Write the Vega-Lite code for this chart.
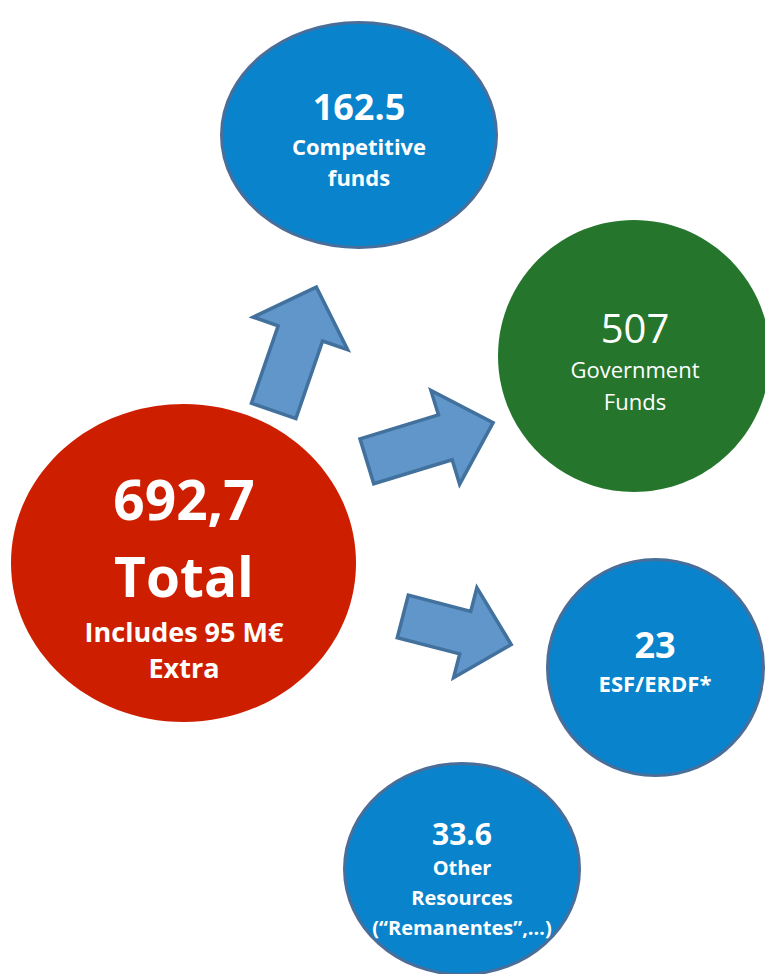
{
  "$schema": "https://vega.github.io/schema/vega-lite/v6.json",
  "width": 765,
  "height": 974,
  "padding": 0,
  "autosize": {"type": "none"},
  "background": "white",
  "config": {"view": {"stroke": null}, "font": "Open Sans"},
  "datasets": {
    "circles": [
      {"name": "Total", "x": 183.5, "y": 563},
      {"name": "Competitive funds", "x": 359, "y": 135},
      {"name": "Government Funds", "x": 634, "y": 356},
      {"name": "ESF/ERDF", "x": 655.5, "y": 667.5},
      {"name": "Other Resources", "x": 462, "y": 869}
    ],
    "arrows": [
      {"arrow": "to Competitive funds", "x": 295, "y": 349, "angle": 19},
      {"arrow": "to Government Funds", "x": 430, "y": 442, "angle": 73},
      {"arrow": "to ESF/ERDF", "x": 457, "y": 630.5, "angle": 104.5}
    ],
    "labels": [
      {"circle": "Total", "role": "headline", "text": "692,7", "x": 184, "y": 520},
      {"circle": "Total", "role": "headline", "text": "Total", "x": 184, "y": 597},
      {"circle": "Total", "role": "note", "text": "Includes 95 M€", "x": 184, "y": 642},
      {"circle": "Total", "role": "note", "text": "Extra", "x": 184, "y": 678},
      {"circle": "Competitive funds", "role": "figure", "text": "162.5", "x": 359, "y": 120},
      {"circle": "Competitive funds", "role": "caption", "text": "Competitive", "x": 359, "y": 155},
      {"circle": "Competitive funds", "role": "caption", "text": "funds", "x": 359, "y": 186},
      {"circle": "Government Funds", "role": "gov_figure", "text": "507", "x": 635, "y": 343},
      {"circle": "Government Funds", "role": "gov_caption", "text": "Government", "x": 635, "y": 378},
      {"circle": "Government Funds", "role": "gov_caption", "text": "Funds", "x": 635, "y": 410},
      {"circle": "ESF/ERDF", "role": "figure", "text": "23", "x": 655, "y": 658},
      {"circle": "ESF/ERDF", "role": "caption", "text": "ESF/ERDF*", "x": 655, "y": 692},
      {"circle": "Other Resources", "role": "figure_small", "text": "33.6", "x": 462, "y": 845},
      {"circle": "Other Resources", "role": "caption_small", "text": "Other", "x": 462, "y": 875},
      {"circle": "Other Resources", "role": "caption_small", "text": "Resources", "x": 462, "y": 905},
      {"circle": "Other Resources", "role": "caption_small", "text": "(“Remanentes”,…)", "x": 462, "y": 935}
    ]
  },
  "encoding": {
    "x": {"field": "x", "type": "quantitative", "scale": {"domain": [0, 765], "nice": false, "zero": false}, "axis": null},
    "y": {"field": "y", "type": "quantitative", "scale": {"domain": [0, 974], "nice": false, "zero": false, "reverse": true}, "axis": null}
  },
  "layer": [
    {
      "data": {"name": "circles"},
      "mark": {"type": "point", "filled": true, "opacity": 1, "strokeWidth": 3, "size": 40000},
      "encoding": {
        "shape": {"field": "name", "type": "nominal", "legend": null, "scale": {
          "domain": ["Total", "Competitive funds", "Government Funds", "ESF/ERDF", "Other Resources"],
          "range": [
            "M1.725,0C1.725,0.878 0.953,1.59 0,1.59C-0.953,1.59 -1.725,0.878 -1.725,0C-1.725,-0.878 -0.953,-1.59 0,-1.59C0.953,-1.59 1.725,-0.878 1.725,0Z",
            "M1.375,0C1.375,0.621 0.759,1.125 0,1.125C-0.759,1.125 -1.375,0.621 -1.375,0C-1.375,-0.621 -0.759,-1.125 0,-1.125C0.759,-1.125 1.375,-0.621 1.375,0Z",
            "M1.36,0C1.36,0.751 0.751,1.36 0,1.36C-0.751,1.36 -1.36,0.751 -1.36,0C-1.36,-0.751 -0.751,-1.36 0,-1.36C0.751,-1.36 1.36,-0.751 1.36,0Z",
            "M1.08,0C1.08,0.597 0.597,1.08 0,1.08C-0.597,1.08 -1.08,0.597 -1.08,0C-1.08,-0.597 -0.597,-1.08 0,-1.08C0.597,-1.08 1.08,-0.597 1.08,0Z",
            "M1.175,0C1.175,0.583 0.649,1.055 0,1.055C-0.649,1.055 -1.175,0.583 -1.175,0C-1.175,-0.583 -0.649,-1.055 0,-1.055C0.649,-1.055 1.175,-0.583 1.175,0Z"
          ]}},
        "fill": {"field": "name", "type": "nominal", "legend": null, "scale": {
          "domain": ["Total", "Competitive funds", "Government Funds", "ESF/ERDF", "Other Resources"],
          "range": ["#CD1F00", "#0983CB", "#25762C", "#0983CB", "#0983CB"]}},
        "stroke": {"field": "name", "type": "nominal", "legend": null, "scale": {
          "domain": ["Total", "Competitive funds", "Government Funds", "ESF/ERDF", "Other Resources"],
          "range": ["transparent", "#4A6E9A", "transparent", "#4A6E9A", "#4A6E9A"]}}
      }
    },
    {
      "data": {"name": "arrows"},
      "mark": {"type": "point", "filled": true, "opacity": 1, "size": 10000, "fill": "#6096CA", "stroke": "#41719C", "strokeWidth": 3.5, "strokeJoin": "miter"},
      "encoding": {
        "angle": {"field": "angle", "type": "quantitative", "scale": null},
        "shape": {"field": "arrow", "type": "nominal", "legend": null, "scale": {
          "domain": ["to Competitive funds", "to Government Funds", "to ESF/ERDF"],
          "range": [
            "M0,-1.31L1.0,-0.33L0.47,-0.33L0.47,1.31L-0.47,1.31L-0.47,-0.33L-1.0,-0.33Z",
            "M0,-1.32L0.98,-0.32L0.47,-0.32L0.47,1.32L-0.47,1.32L-0.47,-0.32L-0.98,-0.32Z",
            "M0,-1.12L0.93,-0.17L0.44,-0.17L0.44,1.12L-0.44,1.12L-0.44,-0.17L-0.93,-0.17Z"
          ]}}
      }
    },
    {
      "data": {"name": "labels"},
      "transform": [{"filter": "datum.role === 'headline'"}],
      "mark": {"type": "text", "fontWeight": "bold", "fontSize": 55, "color": "white", "align": "center", "baseline": "alphabetic"},
      "encoding": {"text": {"field": "text", "type": "nominal"}}
    },
    {
      "data": {"name": "labels"},
      "transform": [{"filter": "datum.role === 'note'"}],
      "mark": {"type": "text", "fontWeight": "bold", "fontSize": 27, "color": "white", "align": "center", "baseline": "alphabetic"},
      "encoding": {"text": {"field": "text", "type": "nominal"}}
    },
    {
      "data": {"name": "labels"},
      "transform": [{"filter": "datum.role === 'figure'"}],
      "mark": {"type": "text", "fontWeight": "bold", "fontSize": 36, "color": "white", "align": "center", "baseline": "alphabetic"},
      "encoding": {"text": {"field": "text", "type": "nominal"}}
    },
    {
      "data": {"name": "labels"},
      "transform": [{"filter": "datum.role === 'figure_small'"}],
      "mark": {"type": "text", "fontWeight": "bold", "fontSize": 30, "color": "white", "align": "center", "baseline": "alphabetic"},
      "encoding": {"text": {"field": "text", "type": "nominal"}}
    },
    {
      "data": {"name": "labels"},
      "transform": [{"filter": "datum.role === 'caption'"}],
      "mark": {"type": "text", "fontWeight": "bold", "fontSize": 22, "color": "white", "align": "center", "baseline": "alphabetic"},
      "encoding": {"text": {"field": "text", "type": "nominal"}}
    },
    {
      "data": {"name": "labels"},
      "transform": [{"filter": "datum.role === 'caption_small'"}],
      "mark": {"type": "text", "fontWeight": "bold", "fontSize": 20, "color": "white", "align": "center", "baseline": "alphabetic"},
      "encoding": {"text": {"field": "text", "type": "nominal"}}
    },
    {
      "data": {"name": "labels"},
      "transform": [{"filter": "datum.role === 'gov_figure'"}],
      "mark": {"type": "text", "fontWeight": "normal", "fontSize": 40, "color": "white", "align": "center", "baseline": "alphabetic"},
      "encoding": {"text": {"field": "text", "type": "nominal"}}
    },
    {
      "data": {"name": "labels"},
      "transform": [{"filter": "datum.role === 'gov_caption'"}],
      "mark": {"type": "text", "fontWeight": "normal", "fontSize": 22, "color": "white", "align": "center", "baseline": "alphabetic"},
      "encoding": {"text": {"field": "text", "type": "nominal"}}
    }
  ],
  "resolve": {"scale": {"shape": "independent", "fill": "independent", "stroke": "independent"}}
}
